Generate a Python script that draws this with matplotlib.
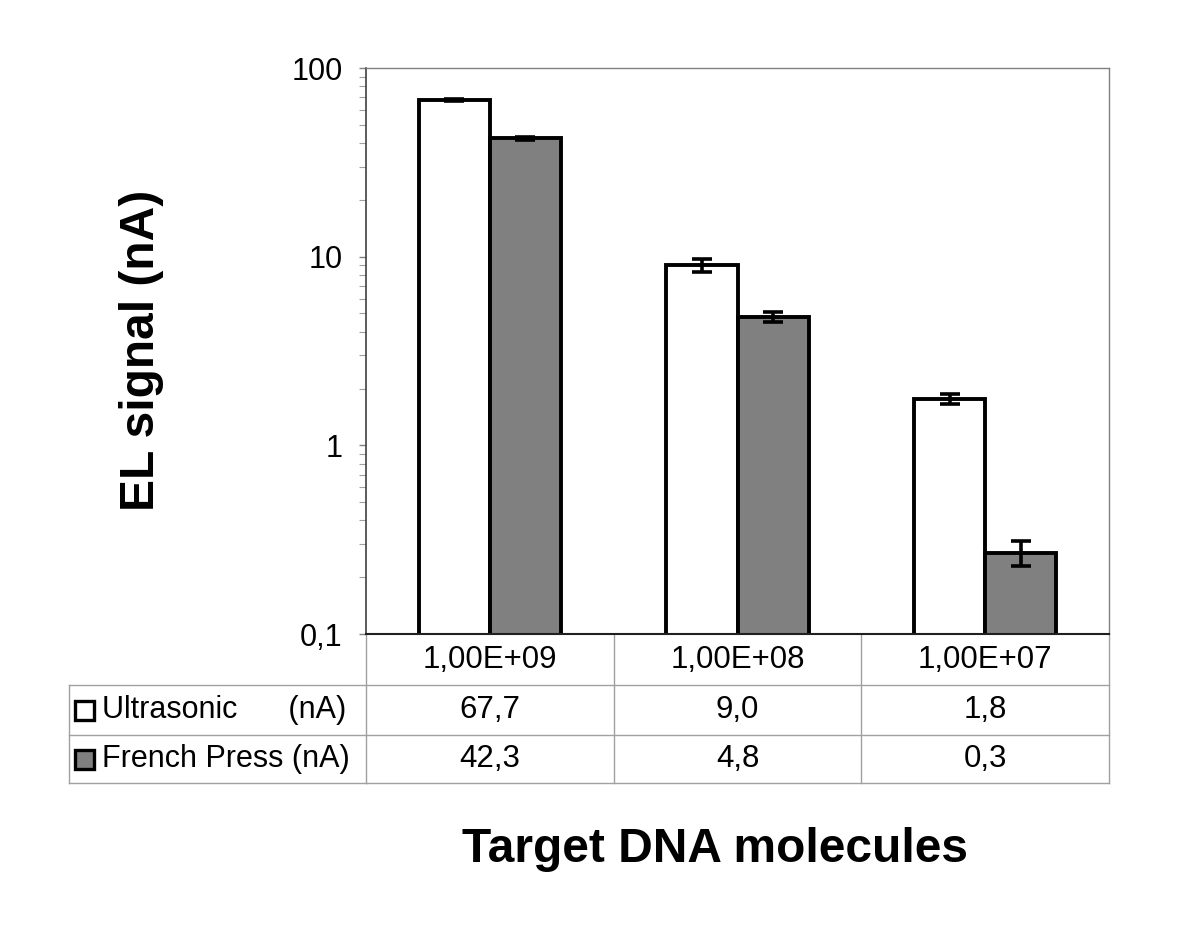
import numpy as np
import matplotlib
matplotlib.use('Agg')
import matplotlib.pyplot as plt
from matplotlib.transforms import blended_transform_factory
from matplotlib.patches import Rectangle

plt.rcParams['font.family'] = ['Liberation Sans', 'DejaVu Sans']

# Data
categories = ['1,00E+09', '1,00E+08', '1,00E+07']
ultrasonic = [67.7, 9.0, 1.76]
ultrasonic_err = [1.0, 0.7, 0.1]
french = [42.3, 4.8, 0.27]
french_err = [0.8, 0.3, 0.04]
series_names = ['Ultrasonic      (nA)', 'French Press (nA)']
series_colors = ['white', '#808080']

W, H = 1200, 932
fig = plt.figure(figsize=(W / 100, H / 100), dpi=100)
ax = fig.add_axes([366 / W, 1 - 634 / H, 743 / W, 566 / H])

x = np.arange(len(categories))
bw = 0.287
ax.bar(x - bw / 2, ultrasonic, bw, color=series_colors[0], edgecolor='black',
       linewidth=2.8, zorder=2)
ax.bar(x + bw / 2, french, bw, color=series_colors[1], edgecolor='black',
       linewidth=2.8, zorder=2)
ax.errorbar(x - bw / 2, ultrasonic, yerr=ultrasonic_err, fmt='none', ecolor='black',
            elinewidth=2.6, capsize=7.5, capthick=2.6, zorder=3)
ax.errorbar(x + bw / 2, french, yerr=french_err, fmt='none', ecolor='black',
            elinewidth=2.6, capsize=7.5, capthick=2.6, zorder=3)

ax.set_yscale('log')
ax.set_ylim(0.1, 100)
ax.set_xlim(-0.5, len(categories) - 0.5)
ax.set_yticks([0.1, 1, 10, 100])
ax.set_yticklabels(['0,1', '1', '10', '100'])
ax.tick_params(axis='y', which='major', labelsize=22, length=5, width=1,
               color='#808080', pad=12)
ax.tick_params(axis='y', which='minor', length=5, width=0.8, color='#a0a0a0')
ax.set_xticks([])

for s in ['top', 'right']:
    ax.spines[s].set_color('#808080')
    ax.spines[s].set_linewidth(1)
ax.spines['left'].set_color('#404040')
ax.spines['left'].set_linewidth(1.2)
ax.spines['bottom'].set_color('#202020')
ax.spines['bottom'].set_linewidth(1.5)

# Data table under the axis
tr = blended_transform_factory(ax.transData, fig.transFigure)
ftr = fig.transFigure
def fy(py):
    return 1 - py / H

grid = dict(color='#a0a0a0', linewidth=1, clip_on=False)
rows_y = [634, 685, 735, 783]
col_x = [i - 0.5 for i in range(len(categories) + 1)]

for xb in col_x:
    ax.plot([xb, xb], [fy(634), fy(783)], transform=tr, **grid)
for yb in rows_y[1:]:
    fig.add_artist(plt.Line2D([69 / W, 366 / W], [fy(yb), fy(yb)], **grid))
    ax.plot([col_x[0], col_x[-1]], [fy(yb), fy(yb)], transform=tr, **grid)
fig.add_artist(plt.Line2D([69 / W, 69 / W], [fy(685), fy(783)], **grid))

for i, c in enumerate(categories):
    ax.text(i, fy((634 + 685) / 2), c, transform=tr, ha='center', va='center',
            fontsize=22.5)
for r, vals in enumerate([ultrasonic, french]):
    yc = fy((rows_y[r + 1] + rows_y[r + 2]) / 2)
    for i, v in enumerate(vals):
        ax.text(i, yc, f'{v:.1f}'.replace('.', ','), transform=tr, ha='center',
                va='center', fontsize=22.5)
    fig.add_artist(Rectangle((75 / W, yc - 9.5 / H), 19 / W, 19 / H, transform=ftr,
                             facecolor=series_colors[r], edgecolor='black',
                             linewidth=2.4))
    fig.text(102 / W, yc, series_names[r], ha='left', va='center', fontsize=22)

fig.text(141 / W, fy(350), 'EL signal (nA)', rotation=90, ha='center', va='center',
         fontsize=34.5, fontweight='bold')
fig.text(715 / W, fy(850), 'Target DNA molecules', ha='center', va='center',
         fontsize=34.5, fontweight='bold')

fig.savefig('out.png', dpi=100, facecolor='white')
